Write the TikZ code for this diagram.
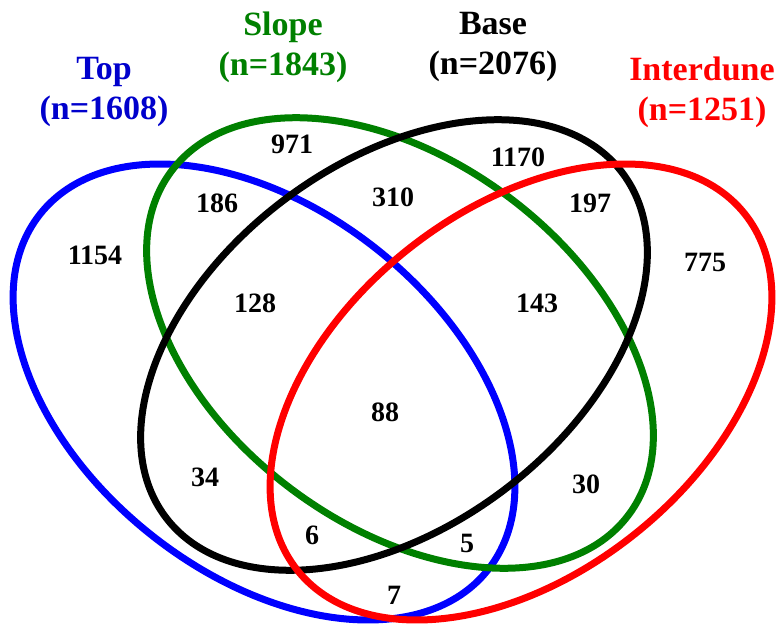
\documentclass[tikz,border=0pt]{standalone}
\usepackage{fontspec}
\setmainfont{Liberation Serif}
\usetikzlibrary{shapes.geometric}
\definecolor{vblue}{RGB}{0,0,255}
\definecolor{vgreen}{RGB}{0,128,0}
\definecolor{vred}{RGB}{255,0,0}
\definecolor{tblue}{RGB}{0,0,204}
\begin{document}
\begin{tikzpicture}[x=1pt,y=-1pt,
  setline/.style={draw, ellipse, line width=7pt, inner sep=0pt, outer sep=0pt,
     minimum width=572pt, minimum height=364pt},
  cnt/.style={font=\fontsize{28}{30}\selectfont\bfseries, inner sep=0pt},
  ttl/.style={font=\fontsize{34}{40}\selectfont\bfseries, align=center, inner sep=0pt}]
\useasboundingbox (0,0) rectangle (780,627);
\node[setline, draw=vblue, rotate=-38.5] (top) at (264,392) {};
\node[setline, draw=vgreen, rotate=-37] (slope) at (400,343) {};
\node[setline, draw=black, rotate=37] (base) at (394,345) {};
\node[setline, draw=vred, rotate=38.5] (inter) at (521,392) {};
% titles
\node[ttl, text=tblue] (ttop) at (104,92) {Top\\(n=1608)};
\node[ttl, text=vgreen] (tslope) at (283,47) {Slope\\(n=1843)};
\node[ttl, text=black] (tbase) at (493,47) {Base\\(n=2076)};
\node[ttl, text=vred] (tinter) at (702,92) {Interdune\\(n=1251)};
% counts
\node[cnt] (c971) at (292,144) {971};
\node[cnt] (c186) at (217,203) {186};
\node[cnt] (c1154) at (95,255) {1154};
\node[cnt] (c128) at (255,303) {128};
\node[cnt] (c310) at (393,197) {310};
\node[cnt] (c1170) at (518,157) {1170};
\node[cnt] (c197) at (590,203) {197};
\node[cnt] (c775) at (705,262) {775};
\node[cnt] (c143) at (537,303) {143};
\node[cnt] (c88) at (385,412) {88};
\node[cnt] (c34) at (205,477) {34};
\node[cnt] (c6) at (312,535) {6};
\node[cnt] (c5) at (467,543) {5};
\node[cnt] (c7) at (394,595) {7};
\node[cnt] (c30) at (586,484) {30};
\end{tikzpicture}
\end{document}
